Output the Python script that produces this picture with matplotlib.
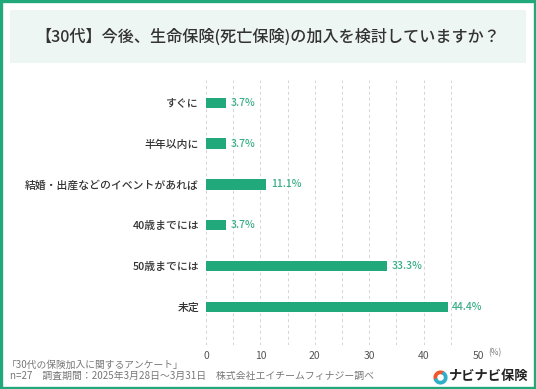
import matplotlib.pyplot as plt
from matplotlib.patches import Rectangle, Wedge

plt.rcParams['font.family'] = ['Noto Sans CJK JP', 'DejaVu Sans']

# data
categories = ["すぐに", "半年以内に", "結婚・出産などのイベントがあれば", "40歳までには", "50歳までには", "未定"]
values = [3.7, 3.7, 11.1, 3.7, 33.3, 44.4]
xticks = [0, 10, 20, 30, 40, 50]

title = "【30代】今後、生命保険(死亡保険)の加入を検討していますか？"
note1 = "「30代の保険加入に関するアンケート」"
note2 = "n=27　調査期間：2025年3月28日～3月31日　株式会社エイチームフィナジー調べ"

green = "#22a97b"
W, H = 536, 389

fig = plt.figure(figsize=(W / 100, H / 100), dpi=100)
fig.patch.set_facecolor("white")

# outer border and title band
fig.add_artist(Rectangle((1.2 / W, 1.2 / H), 1 - 2.4 / W, 1 - 2.4 / H, transform=fig.transFigure,
                         fill=False, edgecolor=green, lw=2.4))
fig.add_artist(Rectangle((10 / W, 1 - 63 / H), 516 / W, 53 / H, transform=fig.transFigure,
                         facecolor="#eef6f3", edgecolor="none"))
fig.text(0.5, 1 - 37 / H, title, ha="center", va="center", fontsize=11.6,
         fontweight="medium", color="#333333")

ax = fig.add_axes([206 / W, 1 - 345 / H, 272 / W, 265 / H])
y = list(range(len(categories)))
ax.barh(y, values, height=0.25, color=green, zorder=3)
for yi, v in zip(y, values):
    ax.text(v + 0.8, yi, f"{v}%", va="center", ha="left", fontsize=7.5,
            color="#3aae86", fontweight="medium")

ax.set_xlim(0, 50)
ax.set_ylim(5.93, -0.555)
ax.set_xticks(xticks)
ax.set_xticks([5, 15, 25, 35, 45], minor=True)
ax.xaxis.grid(True, which="both", linestyle=(0, (3, 3)), color="#d4d4d4", lw=0.7, zorder=0)
ax.set_xticklabels([str(t) for t in xticks], fontsize=7.5, color="#555555")
ax.tick_params(axis="x", which="both", length=0, pad=4)
ax.set_yticks(y)
ax.set_yticklabels(categories, fontsize=7.8, color="#333333", fontweight="medium")
ax.tick_params(axis="y", length=0, pad=5)
for s in ax.spines.values():
    s.set_visible(False)
ax.set_facecolor("none")
fig.text(488 / W, 1 - 353 / H, "(%)", fontsize=6, color="#777777", va="center", ha="left")

# footer
fig.text(7 / W, 1 - 365 / H, note1, fontsize=7, color="#777777", va="center", ha="left")
fig.text(10 / W, 1 - 376 / H, note2, fontsize=7.1, color="#777777", va="center", ha="left")

# logo
lax = fig.add_axes([433 / W, 1 - 385 / H, 15 / W, 15 / H])
lax.set_xlim(-1, 1)
lax.set_ylim(-1, 1)
lax.set_aspect("equal")
lax.axis("off")
lax.add_patch(Wedge((0, 0), 0.85, 60, 200, width=0.32, color="#f0552c"))
lax.add_patch(Wedge((0, 0), 0.85, 200, 420, width=0.32, color="#2fb0c8"))
fig.text(449 / W, 1 - 376 / H, "ナビナビ保険", fontsize=9.5, fontweight="bold",
         color="#222222", va="center", ha="left")

fig.savefig("out.png", dpi=100)
